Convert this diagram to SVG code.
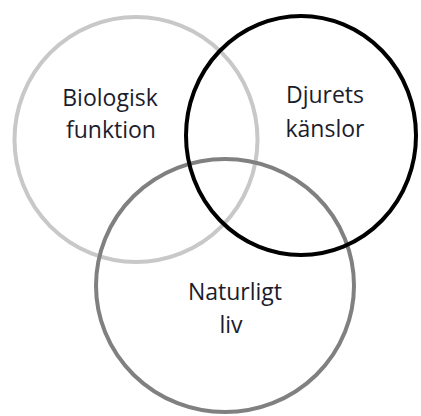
<svg xmlns="http://www.w3.org/2000/svg" width="421" height="416" viewBox="0 0 421 416">
<style>
.c{fill:none;stroke-width:4}
text{font-family:"Open Sans","Liberation Sans",sans-serif;font-size:23px;fill:#1c1c2c;text-anchor:middle}
</style>
<rect width="421" height="416" fill="#fff"/>
<g id="bio"><ellipse class="c" cx="136" cy="139.5" rx="121.5" ry="122.5" stroke="#c8c8c8"/><text x="110" y="106">Biologisk</text><text x="111" y="138">funktion</text></g>
<g id="natur"><ellipse class="c" cx="225" cy="285.5" rx="129" ry="126.5" stroke="#808080"/><text x="235" y="300">Naturligt</text><text x="231" y="333">liv</text></g>
<g id="djur"><ellipse class="c" cx="301" cy="135.5" rx="115" ry="119.5" stroke="#000" stroke-width="4.5"/><text x="325" y="103">Djurets</text><text x="325" y="137">känslor</text></g>
</svg>
